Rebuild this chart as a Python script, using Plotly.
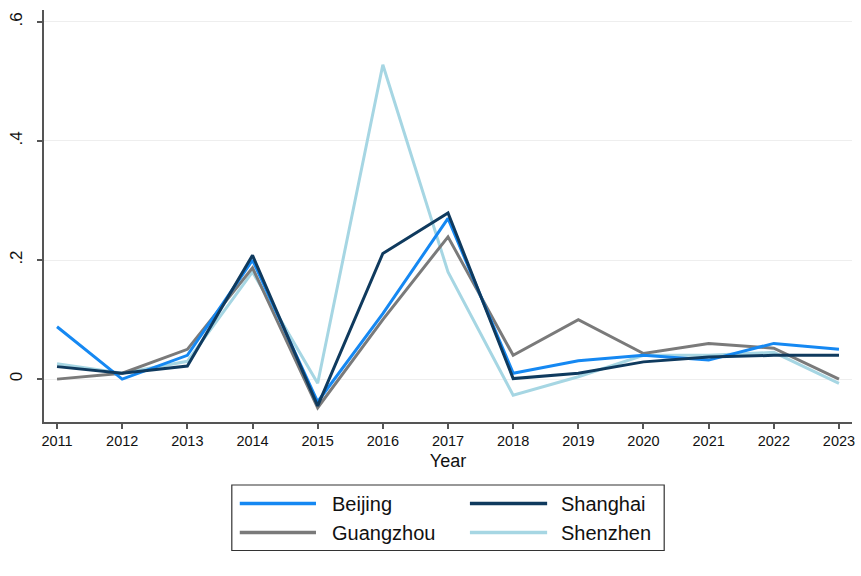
import plotly.graph_objects as go

years = list(range(2011, 2024))
beijing   = [0.088, 0.000, 0.040, 0.200, -0.038, 0.110, 0.270, 0.010, 0.031, 0.040, 0.032, 0.060, 0.050]
shanghai  = [0.021, 0.010, 0.022, 0.208, -0.045, 0.211, 0.279, 0.001, 0.010, 0.029, 0.037, 0.040, 0.040]
guangzhou = [0.000, 0.010, 0.050, 0.187, -0.048, 0.100, 0.239, 0.040, 0.100, 0.043, 0.060, 0.052, 0.000]
shenzhen  = [0.026, 0.010, 0.030, 0.180, -0.007, 0.528, 0.180, -0.027, 0.004, 0.040, 0.040, 0.045, -0.007]

names = ["Beijing", "Shanghai", "Guangzhou", "Shenzhen"]
colors = {"Beijing": "#1588f2", "Shanghai": "#0f3a5e", "Guangzhou": "#7a7a7a", "Shenzhen": "#a6d6e3"}
series = {"Beijing": beijing, "Shanghai": shanghai, "Guangzhou": guangzhou, "Shenzhen": shenzhen}
y_ticks = [0, 0.2, 0.4, 0.6]
y_tick_labels = ["0", ".2", ".4", ".6"]

FONT = "Liberation Sans, Arial, Helvetica, sans-serif"

fig = go.Figure()
for nm in ["Shenzhen", "Guangzhou", "Beijing", "Shanghai"]:
    fig.add_trace(go.Scatter(x=years, y=series[nm], mode="lines", name=nm,
                             line=dict(color=colors[nm], width=3), showlegend=False))

fig.update_layout(
    width=861, height=576,
    margin=dict(l=44, r=6, t=10, b=154),
    paper_bgcolor="white", plot_bgcolor="white",
    font=dict(family=FONT, color="#111111"),
)
fig.update_xaxes(
    range=[2010.8, 2023.2], tickmode="array", tickvals=years,
    ticktext=[str(y) for y in years], tickfont=dict(size=14.5),
    showline=True, linecolor="#555555", linewidth=1.5,
    ticks="outside", ticklen=5, tickcolor="#555555", tickwidth=1.5,
    showgrid=False, zeroline=False,
    title=dict(text="Year", font=dict(size=18), standoff=6),
)
fig.update_yaxes(
    range=[-0.072, 0.62], tickmode="array", tickvals=y_ticks, ticktext=y_tick_labels,
    tickangle=-90, tickfont=dict(size=17), ticklabelstandoff=8,
    showline=True, linecolor="#555555", linewidth=1.5,
    ticks="outside", ticklen=5, tickcolor="#555555", tickwidth=1.5,
    showgrid=True, gridcolor="#eeeeee", gridwidth=1, zeroline=False,
)

def px(x):
    return (x - 44) / 811.0

def py(y):
    return (422 - y) / 412.0

fig.add_shape(type="rect", xref="paper", yref="paper",
              x0=px(232.5), x1=px(666.5), y0=py(550.5), y1=py(485),
              line=dict(color="#333333", width=1.2), fillcolor="white")
legend_layout = [("Beijing", 240.5, 317, 331, 503.5), ("Shanghai", 471.5, 549, 561, 503.5),
                 ("Guangzhou", 240.5, 317, 331, 532.5), ("Shenzhen", 471.5, 549, 561, 532.5)]
for nm, lx0, lx1, tx, ly in legend_layout:
    fig.add_shape(type="line", xref="paper", yref="paper",
                  x0=px(lx0), x1=px(lx1), y0=py(ly), y1=py(ly),
                  line=dict(color=colors[nm], width=3.5))
    fig.add_annotation(xref="paper", yref="paper", x=px(tx), y=py(ly), text=nm,
                       showarrow=False, xanchor="left", yanchor="middle",
                       font=dict(size=20, family=FONT, color="#111111"))

fig.write_html("out.html")
